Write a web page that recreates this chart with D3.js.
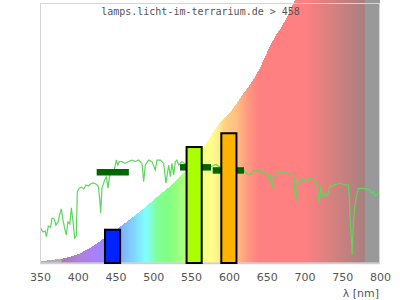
<!DOCTYPE html>
<html><head><meta charset="utf-8">
<script src="https://cdn.jsdelivr.net/npm/d3@7"></script>
<style>body{margin:0;background:#fff}svg{display:block}</style>
</head><body><svg id="c" width="400" height="300"></svg>
<script>
const title = "lamps.licht-im-terrarium.de > 458";
const xTicks = [350,400,450,500,550,600,650,700,750,800];
const xLabel = "λ [nm]";

// reference curve (coloured area)
const refWl  = [350,372,380,403,430,456,482,500,540,566,584,604,621,635,643,652,661,670,679,683,688,700,800];
const refVal = [0.6,1.4,1.7,3.7,8.5,14,19.7,24.2,34.5,44.1,52.4,58.8,65.9,71.7,76.2,81.9,87,90.9,96,98.6,101.2,106,130];

// lamp spectrum (green line)
const specWl = [351,354,357,358.4,361,364,366,369,371,374,376,378.2,380,382.5,384.8,387,389.5,391.5,393.5,395.9,398,399.4,402,405,408,411,414,417,420,424,427,429,430.3,432,435.6,438,440,442,444.4,448,451,453,455,458.5,463,467.3,471.7,476.1,480.6,485,487.2,489.4,493.8,498.2,502.6,504.8,509.2,513.7,516.7,520.3,522.5,524.7,526.9,529.1,531.3,533.5,537.9,542,550,560,566,572,578,583,588,595,605,615,619.6,623,627,630,633.7,637,640.3,644,647,649.1,652,654,655.7,657,659.3,662.4,667,671.2,676,680.9,684,686.2,687.5,688.8,690.6,693.3,696.3,698.5,700.8,704,707.4,711,714,716.2,718.4,719.7,721.5,722.8,725,727.2,729.4,731.6,733.8,736,738.3,742.7,747.1,750,753.7,758.1,759.4,760.3,761.6,762.5,763,763.8,764.7,765.6,766.9,769.1,771.3,775.8,782.4,786.8,789,791.2,793.4,796.5,799.1];
const specVal = [13.3,11.9,12.3,10.1,14.2,13.8,17.3,16.9,14.6,15.8,18.5,20.8,17.3,13.5,10.8,15.8,15,21.2,16.5,9.6,10.4,27.4,28.8,29.2,28.5,30,29.6,30.4,30.8,30.4,29.6,25,19.2,28.8,31.9,33.1,28.8,33.1,35.8,35.4,39.6,37.7,39,39,38.3,39,39.6,39,39.6,38.3,31.3,37.7,39.6,39,35.8,39.6,39.6,38.3,30.7,37.7,33.2,38.3,33.8,39,39.6,37.7,39,38.1,37.7,37.3,36.9,36.5,37.3,37.9,36.9,36.2,35.8,35.8,35.8,34.5,33.8,34.6,35.8,35.1,35.8,34.5,35.1,33.8,33.2,34.5,31.3,28.7,32.6,34.5,34.9,35.1,34.5,34.1,33.8,33.2,27.4,23.6,29.3,31.3,32.6,31.5,31.9,31.9,32.6,32.3,31.9,30.7,25.5,23,30,27.4,25.5,26.8,25.5,26.8,30,29.3,30,30.3,30.7,30.4,30,30,24.9,17.8,12,6.9,3.1,9.5,14.6,18.5,22.3,26.2,28.7,28.7,28.5,28.1,26.8,27.4,25.8,26.5,27.2];

// bars
const barStart = [436,544,590];
const barEnd   = [456,564,610];
const barVal   = [12.8,44.6,49.9];
const barColor = ["#0022ff","#aaff00","#ffb400"];

// band averages (dark green)
const bandStart = [425,535.3,578.6];
const bandEnd   = [467.6,576.3,620];
const bandVal   = [34.9,36.8,35.6];

// spectral colours of the area
const colorWl  = [350,378,379,400,425,440,458,475,490,505,520,535,545,565,575,585,595,610,625,640,700,780];
const colorHex = ["#b4acb4","#b4acb4","#a878b8","#b080d8","#a880ff","#8890ff","#80b0ff","#80d8ff","#80ffff","#80ff98","#80ff80","#a0ff80","#b8ff80","#f0ff80","#ffff88","#fff090","#ffd080","#ffc080","#ff9880","#ff8080","#ff8080","#a88080"];
const grayRange = [780,800];

const svg = d3.select("#c");
const x = d3.scaleLinear().domain([350,800]).range([40,380]);
const y = d3.scaleLinear().domain([0,100]).range([263,3]);

const defs = svg.append("defs");
const grad = defs.append("linearGradient").attr("id","spec")
  .attr("gradientUnits","userSpaceOnUse")
  .attr("x1",x(350)).attr("x2",x(800)).attr("y1",0).attr("y2",0);
colorWl.forEach((w,i)=>{
  grad.append("stop").attr("offset",(w-350)/450).attr("stop-color",colorHex[i]);
});
defs.append("clipPath").attr("id","plot").append("rect")
  .attr("x",x(350)).attr("y",0).attr("width",x(800)-x(350)).attr("height",y(0));

const g = svg.append("g").attr("clip-path","url(#plot)");

const area = d3.area().x((d,i)=>x(refWl[i])).y0(y(0)).y1((d,i)=>y(refVal[i])).curve(d3.curveMonotoneX);
g.append("path").datum(refVal).attr("d",area).attr("fill","url(#spec)").attr("shape-rendering","crispEdges");

g.append("rect").attr("x",x(grayRange[0])).attr("y",0)
  .attr("width",x(grayRange[1])-x(grayRange[0])).attr("height",y(0)).attr("fill","#999999");

const line = d3.line().x((d,i)=>x(specWl[i])).y((d,i)=>y(specVal[i]));
g.append("path").datum(specVal).attr("d",line).attr("fill","none")
  .attr("stroke","#5cd65c").attr("stroke-width",1.2);

// frame
svg.append("rect").attr("x",40.5).attr("y",3.5).attr("width",339).attr("height",259.5)
  .attr("fill","none").attr("stroke","#d6d6d6").attr("stroke-width",1);
svg.append("line").attr("x1",40).attr("x2",380).attr("y1",263.5).attr("y2",263.5)
  .attr("stroke","#cfcfcf").attr("stroke-width",1.5);

// bands
svg.selectAll("line.band").data(bandVal).enter().append("line").attr("class","band")
  .attr("x1",(d,i)=>x(bandStart[i])).attr("x2",(d,i)=>x(bandEnd[i]))
  .attr("y1",d=>y(d)).attr("y2",d=>y(d))
  .attr("stroke","#006600").attr("stroke-width",6.5);

// bars
svg.selectAll("rect.bar").data(barVal).enter().append("rect").attr("class","bar")
  .attr("x",(d,i)=>x(barStart[i])).attr("width",(d,i)=>x(barEnd[i])-x(barStart[i]))
  .attr("y",d=>y(d)).attr("height",d=>y(0)-y(d))
  .attr("fill",(d,i)=>barColor[i]).attr("stroke","#000").attr("stroke-width",2);

// axis labels
const xa = d3.axisBottom(x).tickValues(xTicks).tickSize(0).tickPadding(0);
const ax = svg.append("g").attr("transform","translate(0,273)").call(xa);
ax.select(".domain").remove();
ax.selectAll("text").attr("font-family","DejaVu Sans").attr("font-size","11px")
  .attr("fill","#555").attr("dy","0.71em");

svg.append("text").attr("x",379).attr("y",297).attr("text-anchor","end")
  .attr("font-family","DejaVu Sans").attr("font-size","11px").attr("fill","#555").text(xLabel);

svg.append("text").attr("x",200.5).attr("y",14.7).attr("text-anchor","middle")
  .attr("font-family","DejaVu Sans Mono").attr("font-size","10px").attr("fill","#555").text(title);
</script></body></html>
